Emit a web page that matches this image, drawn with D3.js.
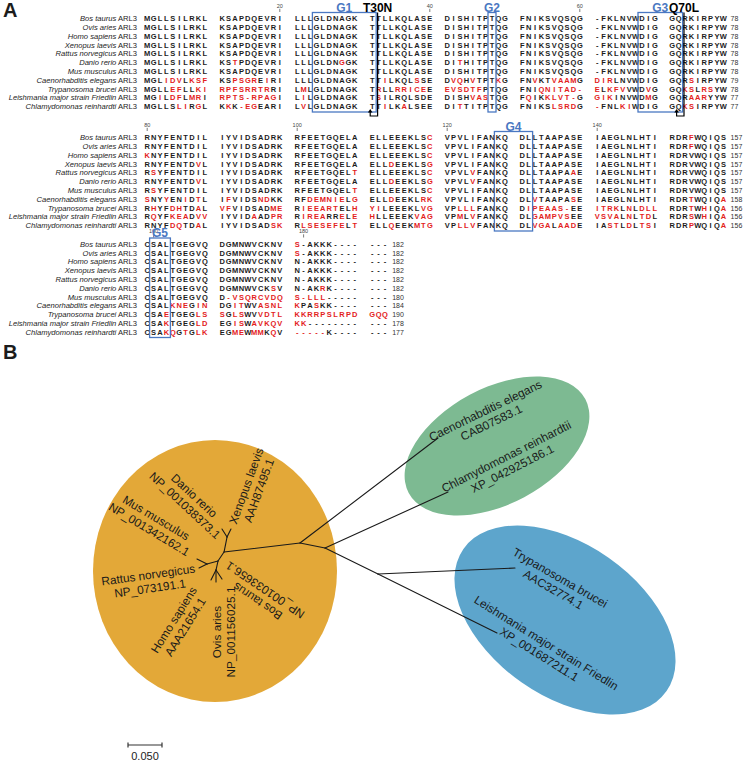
<!DOCTYPE html>
<html><head><meta charset="utf-8">
<script src="https://cdn.jsdelivr.net/npm/d3@7"></script>
<style>
body{margin:0;background:#fff}
svg{display:block}
text{font-family:"Liberation Sans",Arial,sans-serif}
</style>
</head><body>
<svg id="chart" width="744" height="779"></svg>
<script>
// ---------------- DATA ----------------
const species = ["Bos taurus","Ovis aries","Homo sapiens","Xenopus laevis","Rattus norvegicus","Danio rerio","Mus musculus","Caenorhabditis elegans","Trypanosoma brucei","Leishmania major strain Friedlin","Chlamydomonas reinhardti"];
// uppercase = black residue, lowercase = red residue, '-' black gap, '~' red gap
const block1 = [
 "MGLLSILRKL KSAPDQEVRI LLLGLDNAGK TTLLKQLASE DISHITPTQG FNIKSVQSQG -FKLNVWDIG GQRKIRPYW",
 "MGLLSILRKL KSAPDQEVRI LLLGLDNAGK TTLLKQLASE DISHITPTQG FNIKSVQSQG -FKLNVWDIG GQRKIRPYW",
 "MGLLSILRKL KSAPDQEVRI LLLGLDNAGK TTLLKQLASE DISHITPTQG FNIKSVQSQG -FKLNVWDIG GQRKIRPYW",
 "MGLLSILRKL KSAPDQEVRI LLLGLDNAGK TTLLKQLASE DISHITPTQG FNIKSVQSQG -FKLNVWDIG GQRKIRPYW",
 "MGLLSILRKL KSAPDQEVRI LLLGLDNAGK TTLLKQLASE DISHITPTQG FNIKSVQSQG -FKLNVWDIG GQRKIRPYW",
 "MGLLSILRKL KStPDQEVRI LLLGLDNgGK TTLLKQLASE DItHITPTQG FNIKSVQSQG -FKLNVWDIG GQRKIRPYW",
 "MGLLSILRKL KSAPDQEVRI LLLGLDNAGK TTLLKQLASE DISHITPTQG FNIKSVQSQG -FKLNVWDIG GQRKIRPYW",
 "MGLidvLksf KSpsgrEiRI LLLGLDNAGK TTiLKQLsSE DvqHvTPTkG FNvKTvaamG dirLNVWDIG GQRsIRPYW",
 "MGLLefLLki rpfsrrtrRI LmLGLDNAGK TrLLrriceE evsdtfPTQG FNIqnitad~ eLkfvVWDvG GQksLrsYW",
 "MGiLdfLmrI rpts~rpagI LiLGLDNAGK TsILRQLSDE DISHvasTQG FqIKklvt~G gikINVWDmG GQRaarYYW",
 "MGLLSliRgL KkK~egEARI LvLGLDNAGK TTiLKaLSEE DItTITPTQG FNIKSlsrdG ~FNLkiWDIG GQksIRPYW"
];
const block2 = [
 "RNYFENTDIL IYVIDSADRK RFEETGQELA ELLEEEKLSc VPVLIFANKQ DLLTAAPASE IAEGLNLHTI RDRfWQIQS",
 "RNYFENTDIL IYVIDSADRK RFEETGQELA ELLEEEKLSc VPVLIFANKQ DLLTAAPASE IAEGLNLHTI RDRfWQIQS",
 "kNYFENTDIL IYVIDSADRK RFEETGQELA ELLEEEKLSc VPVLIFANKQ DLLTAAPASE IAEGLNLHTI RDRVWQIQS",
 "RNYFENTDvL IYVIDSADRK RFEETGQELA ELLdEEKLSg VPVLIFANKQ DLLTAAPASE IAEGLNLHTI RDRVWQIQS",
 "RsYFENTDIL IYVIDSADRK RFEETGQELt ELLEEEKLSc VPVLvFANKQ DLLTAAPAaE IAEGLNLHTI RDRVWQIQS",
 "RNYFENTDvL IYVIDSADRK RFEETGQELA ELLdEEKLSg VPVLvFANKQ DLLTAAPASE IAEGLNLHTI RDRVWQIQS",
 "RsYFENTDIL IYVIDSADRK RFEETGQELt ELLEEEKLSc VPVLIFANKQ DLLTAAPASE IAEGLNLHTI RDRVWQIQS",
 "sNYyENiDtL IfVIDSndKK RFdemnieLg ELLdEEKLrk VPVLIFANKQ DLvTAAPAsE IAEGLNLHTI RDRtWQIQa",
 "RhYFdhTDaL vfVIDSADme RieeartELh yiLEEEKLvg VPlllFANKQ Dipeaas~EE itrkLnLdll RDRtWhIQa",
 "RqYFkeaDvv IYVIDaADpr RireaRReLe hLLEEEKvag VPmLvFANKQ DLgampvsEE vsvaLnLtdL RDRsWhIQa",
 "RNYFdqTDaL IYVIDSADsk RlsesefeLt ELLqEEKmtg VPllvFANKQ DLvgaLaadE IAstLdLtsI RDRpWQIQa"
];
const block3 = [
 "CSALTGEGVQ DGMNWVCKNV s-AKKK---- ---",
 "CSALTGEGVQ DGMNWVCKNV s-AKKK---- ---",
 "CSALTGEGVQ DGMNWVCKNV N-AKKK---- ---",
 "CSALTGEGVQ DGMNWVCKNV N-AKKK---- ---",
 "CSALTGEGVQ DGMNWVCKNV N-AKKK---- ---",
 "CSALTGEGVQ DGMNWVCKsV N-AKrK---- ---",
 "CSALTGEGVQ D~vsqrcvdq s~lll----- ---",
 "CSALkneGin DGitWVasnl kPAsKK---- ---",
 "CSAeTGEGls sGlsWVvdtl kkrrpslrpd gqq",
 "CSAkTGEGld EGisWavkqv kk-------- ---",
 "CSAkqGtGlk EGmeWmmKqV ~~~~~K---- ---"
];
const ends1 = [78,78,78,78,78,78,78,79,78,77,77];
const ends2 = [157,157,157,157,157,157,157,158,156,156,156];
const ends3 = [182,182,182,182,182,182,180,184,190,178,177];
const blockStartCol = [1, 80, 159];
const rulerTicks = [[20,40,60],[80,100,120,140],[160,180]];
const motifs = [
 {label:"G1", block:0, from:24, to:31},
 {label:"G2", block:0, from:48, to:48},
 {label:"G3", block:0, from:68, to:72},
 {label:"G4", block:1, from:128, to:131},
 {label:"G5", block:2, from:160, to:162}
];
const mutations = [{label:"T30N", block:0, col:31},{label:"Q70L", block:0, col:72}];

// Phylogenetic tree: node coordinates in substitution units
const treeNodes = [
 {id:"n1", x:0.1824, y:0.1942},{id:"n2", x:0.2941, y:0.1809},{id:"n3", x:0.3309, y:0.1883},{id:"n4", x:0.4088, y:0.2265},
 {id:"a", x:0.1868, y:0.1721},{id:"b", x:0.1735, y:0.2074},{id:"r", x:0.1574, y:0.2118},{id:"c", x:0.1706, y:0.2206},
 {id:"Xenopus", x:0.1926, y:0.1603},{id:"Danio", x:0.1794, y:0.1603},
 {id:"Rattus", x:0.1426, y:0.2045},{id:"Mus", x:0.1456, y:0.2177},
 {id:"Homo", x:0.1632, y:0.2353},{id:"Ovis", x:0.1706, y:0.2383},{id:"Bos", x:0.1794, y:0.2339},
 {id:"Caeno", x:0.4971, y:0.0265},{id:"Chlamy", x:0.5118, y:0.1059},
 {id:"Trypan", x:0.6103, y:0.2177},{id:"Leish", x:0.5838, y:0.3133}
];
const treeEdges = [["n1","n2"],["n2","n3"],["n3","n4"],["n2","Caeno"],["n3","Chlamy"],["n4","Trypan"],["n4","Leish"],
 ["n1","a"],["a","Xenopus"],["a","Danio"],["n1","b"],["b","r"],["r","Rattus"],["r","Mus"],["b","c"],["c","Homo"],["c","Ovis"],["c","Bos"]];
const treeLabels = [
 {id:"Xenopus", name:"Xenopus laevis", acc:"AAH87495.1"},
 {id:"Danio", name:"Danio rerio", acc:"NP_001038373.1"},
 {id:"Mus", name:"Mus musculus", acc:"NP_001342162.1"},
 {id:"Rattus", name:"Rattus norvegicus", acc:"NP_073191.1"},
 {id:"Homo", name:"Homo sapiens", acc:"AAA21654.1"},
 {id:"Ovis", name:"Ovis aries", acc:"NP_001156025.1"},
 {id:"Bos", name:"Bos taurus", acc:"NP_001033656.1"},
 {id:"Caeno", name:"Caenorhabditis elegans", acc:"CAB07583.1"},
 {id:"Chlamy", name:"Chlamydomonas reinhardtii", acc:"XP_042925186.1"},
 {id:"Trypan", name:"Trypanosoma brucei", acc:"AAC32774.1"},
 {id:"Leish", name:"Leishmania major strain Friedlin", acc:"XP_001687211.1"}
];
const scaleBarValue = 0.05;

// ---------------- LAYOUT ----------------
const RED = "#e3211c", INK = "#1c1c1c", BLUE = "#4a78c2";
const L = {
  nameRight:137, x0:144, pitch:6.4, groupPitch:75, rowStep:8.8,
  blockTop:[18.5,137.5,244], resFont:7.5, nameFont:7.6
};
const labelLayout = {
 Xenopus:{x:0.2235,y:0.1000,a:-70}, Danio:{x:0.1324,y:0.1177,a:43}, Mus:{x:0.0779,y:0.1515,a:31},
 Rattus:{x:0.0721,y:0.2368,a:-8}, Homo:{x:0.1162,y:0.2986,a:-58}, Ovis:{x:0.1809,y:0.3118,a:-90},
 Bos:{x:0.2368,y:0.2589,a:214}, Caeno:{x:0.5706,y:-0.0058,a:-26}, Chlamy:{x:0.6015,y:0.0618,a:-27},
 Trypan:{x:0.6721,y:0.2398,a:30}, Leish:{x:0.6515,y:0.3353,a:32}
};
const clades = [
 {cx:215, cy:571, rx:122, ry:131, rot:0, fill:"#e3a838"},
 {cx:497, cy:446, rx:100, ry:58, rot:-28, fill:"#7dba92"},
 {cx:565, cy:620, rx:124, ry:76, rot:35, fill:"#5da5cc"}
];

const svg = d3.select("#chart");

// ---------------- PANEL A ----------------
svg.append("text").attr("x",3).attr("y",17).attr("font-size",20).attr("font-weight","bold").attr("fill",INK).text("A");

const groupX = d3.scaleLinear().domain([0,1]).range([L.x0, L.x0+L.groupPitch]);
const colLeft = c => groupX(Math.floor(c/10)) + (c%10)*L.pitch;   // c: 0-based column within block
const rowY = d3.scaleLinear().domain([0,1]).range([0,L.rowStep]);

const blocks = [block1, block2, block3];
const ends = [ends1, ends2, ends3];

blocks.forEach((blk, bi) => {
  const g = svg.append("g");
  const top = L.blockTop[bi];
  const yc = i => top + rowY(i);
  species.forEach((sp, i) => {
    const t = g.append("text").attr("x", L.nameRight).attr("y", yc(i)+2.7)
      .attr("text-anchor","end").attr("font-size",L.nameFont).attr("fill",INK);
    t.append("tspan").attr("font-style","italic").text(sp);
    t.append("tspan").text(" ARL3");
  });
  blk.forEach((s, i) => {
    const chars = s.replace(/ /g,"").split("");
    g.append("g").selectAll("text").data(chars).join("text")
      .attr("x",(d,c)=>colLeft(c)+L.pitch/2).attr("y", yc(i)+2.7)
      .attr("text-anchor","middle").attr("font-size",L.resFont).attr("font-weight","bold")
      .attr("fill", d => (d==="~" || (d!=="-" && d===d.toLowerCase())) ? RED : INK)
      .text(d => d==="~" ? "-" : d.toUpperCase());
    const n = chars.length;
    g.append("text").attr("x", colLeft(n-1)+L.pitch+4).attr("y", yc(i)+2.7)
      .attr("font-size",7).attr("fill","#333").text(ends[bi][i]);
  });
  rulerTicks[bi].forEach(v => {
    const c = v - blockStartCol[bi];
    const x = colLeft(c)+L.pitch/2;
    g.append("text").attr("x",x).attr("y",top-11).attr("text-anchor","middle").attr("font-size",5.5).attr("fill","#444").text(v);
    g.append("line").attr("x1",x).attr("x2",x).attr("y1",top-9.7).attr("y2",top-6.5).attr("stroke","#444").attr("stroke-width",0.7);
  });
});

motifs.forEach(m => {
  const top = L.blockTop[m.block];
  const c0 = m.from - blockStartCol[m.block], c1 = m.to - blockStartCol[m.block];
  const x1 = colLeft(c0)-0.8, x2 = colLeft(c1)+L.pitch+0.8;
  const y1 = top-6, y2 = top + rowY(species.length-1) + 5.5;
  svg.append("rect").attr("x",x1).attr("y",y1).attr("width",x2-x1).attr("height",y2-y1)
    .attr("fill","none").attr("stroke",BLUE).attr("stroke-width",1.3);
  svg.append("text").attr("x",(x1+x2)/2).attr("y",y1-1).attr("text-anchor","middle")
    .attr("font-size",12).attr("font-weight","bold").attr("fill",BLUE).text(m.label);
});

mutations.forEach(m => {
  const top = L.blockTop[m.block];
  const c = m.col - blockStartCol[m.block];
  const xl = colLeft(c)+L.pitch+2.2;
  const xa = colLeft(c)+L.pitch/2-2;
  const yb = top + rowY(species.length-1) + 9.5;
  svg.append("path").attr("d",`M${xl},${top-6}V${yb}H${xa}V${yb-4}`).attr("fill","none").attr("stroke","#000").attr("stroke-width",1.2);
  svg.append("path").attr("d",`M${xa-2.3},${yb-3.5}L${xa},${yb-7}L${xa+2.3},${yb-3.5}Z`).attr("fill","#000");
  svg.append("text").attr("x",xl).attr("y",top-7).attr("text-anchor","middle")
    .attr("font-size",12).attr("font-weight","bold").attr("fill","#000").text(m.label);
});

// ---------------- PANEL B ----------------
svg.append("text").attr("x",3).attr("y",359).attr("font-size",20).attr("font-weight","bold").attr("fill",INK).text("B");

const tx = d3.scaleLinear().domain([0,1]).range([100,780]);
const ty = d3.scaleLinear().domain([0,1]).range([420,1100]);

const gB = svg.append("g");
gB.selectAll("ellipse").data(clades).join("ellipse")
  .attr("transform",d=>`translate(${d.cx},${d.cy}) rotate(${d.rot})`)
  .attr("rx",d=>d.rx).attr("ry",d=>d.ry).attr("fill",d=>d.fill);

const nodeById = new Map(treeNodes.map(n=>[n.id,n]));
gB.selectAll("line.edge").data(treeEdges).join("line").attr("class","edge")
  .attr("x1",d=>tx(nodeById.get(d[0]).x)).attr("y1",d=>ty(nodeById.get(d[0]).y))
  .attr("x2",d=>tx(nodeById.get(d[1]).x)).attr("y2",d=>ty(nodeById.get(d[1]).y))
  .attr("stroke","#1a1a1a").attr("stroke-width",1.1).attr("stroke-linecap","round");

treeLabels.forEach(l => {
  const p = labelLayout[l.id];
  const g = gB.append("g").attr("transform",`translate(${tx(p.x)},${ty(p.y)}) rotate(${p.a})`);
  g.append("text").attr("text-anchor","middle").attr("y",-2).attr("font-size",11.8).attr("fill","#1a1a1a").text(l.name);
  g.append("text").attr("text-anchor","middle").attr("y",11.5).attr("font-size",11.8).attr("fill","#1a1a1a").text(l.acc);
});

const sbX = 128, sbY = 745;
const sbLen = tx(scaleBarValue) - tx(0);
const sb = gB.append("g").attr("stroke","#333").attr("stroke-width",1.2);
sb.append("line").attr("x1",sbX).attr("x2",sbX+sbLen).attr("y1",sbY).attr("y2",sbY);
sb.append("line").attr("x1",sbX).attr("x2",sbX).attr("y1",sbY-2.5).attr("y2",sbY+2.5);
sb.append("line").attr("x1",sbX+sbLen).attr("x2",sbX+sbLen).attr("y1",sbY-2.5).attr("y2",sbY+2.5);
gB.append("text").attr("x",sbX+sbLen/2).attr("y",sbY+15).attr("text-anchor","middle").attr("font-size",11).attr("fill","#222").text(d3.format(".3f")(scaleBarValue));
</script>
</body></html>
